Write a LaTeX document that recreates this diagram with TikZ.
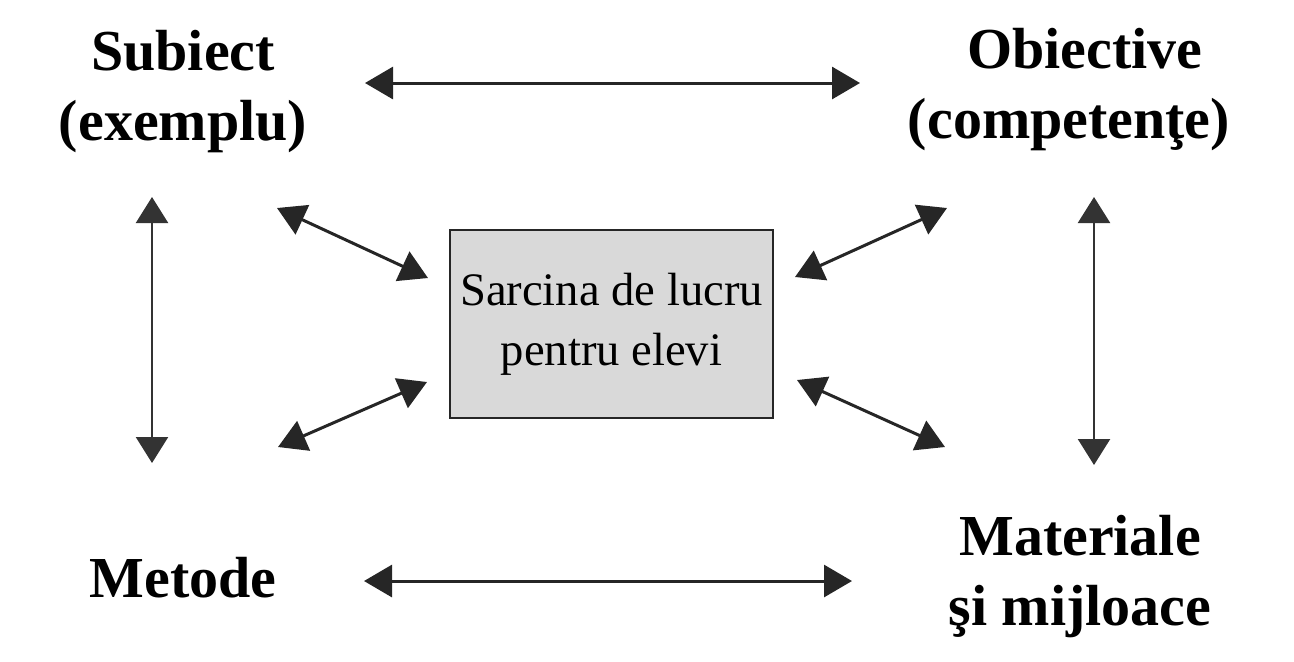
\documentclass[tikz,border=0pt]{standalone}
\usepackage{fontspec}
\setmainfont{Liberation Serif}
\usetikzlibrary{arrows.meta}
\begin{document}
\begin{tikzpicture}[x=0.5pt,y=-0.5pt,
        eticheta/.style={font=\fontsize{29}{35}\selectfont\bfseries, align=center, inner sep=0pt, anchor=base},
        sarcina/.style={draw=black!85, line width=1pt, fill=black!15, minimum width=161.5pt, minimum height=94pt, inner sep=0pt, align=center, font=\fontsize{23.3}{30}\selectfont},
        dublu/.style={{Triangle[length=14pt,width=16pt]}-{Triangle[length=14pt,width=16pt]}, line width=1.5pt, draw=black!85},
        vertical/.style={{Triangle[length=13pt,width=16pt]}-{Triangle[length=13pt,width=16pt]}, line width=1.2pt, draw=black!80}]
        \useasboundingbox (0,0) rectangle (1294,661);
        \node[sarcina] (sarcina) at (611.5,324) {Sarcina de lucru\\pentru elevi};
        \node[eticheta] (subiect) at (183,140) {Subiect\\(exemplu)};
        \node[eticheta] (obiective) at (1069,138) {\hspace*{16pt}Obiective\\(competenţe)};
        \node[eticheta] (metode) at (183,597) {Metode};
        \node[eticheta] (materiale) at (1080,625) {Materiale\\şi mijloace};
        \coordinate (sus1) at (365,83);
        \coordinate (sus2) at (860,83);
        \coordinate (jos1) at (364,581);
        \coordinate (jos2) at (852,581);
        \coordinate (st1) at (152,197);
        \coordinate (st2) at (152,463);
        \coordinate (dr1) at (1094,197);
        \coordinate (dr2) at (1094,465);
        \coordinate (ss) at (277,208);
        \coordinate (sj) at (278,447);
        \coordinate (ds) at (947,208);
        \coordinate (dj) at (945,447);
        \coordinate (css) at (428,278);
        \coordinate (csj) at (427,382);
        \coordinate (cds) at (795,277);
        \coordinate (cdj) at (797,380);
        \draw[dublu] (sus1)--(sus2);
        \draw[dublu] (jos1)--(jos2);
        \draw[vertical] (st1)--(st2);
        \draw[vertical] (dr1)--(dr2);
        \draw[dublu] (ss)--(css);
        \draw[dublu] (sj)--(csj);
        \draw[dublu] (ds)--(cds);
        \draw[dublu] (dj)--(cdj);
\end{tikzpicture}
\end{document}
